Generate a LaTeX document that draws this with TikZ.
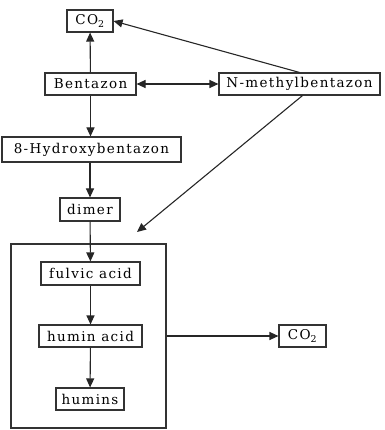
\documentclass[tikz,border=0pt]{standalone}
\usepackage{fontspec}
\setmainfont[LetterSpace=10]{DejaVu Serif}
\usetikzlibrary{arrows.meta,positioning,calc}

\begin{document}
\begin{tikzpicture}[
  x=1pt, y=-1pt,
  >={Triangle[length=9pt,width=8pt]},
  every node/.style={font=\fontsize{13.5}{15}\selectfont},
  cmpd/.style={draw=black!80, line width=1.1pt, inner sep=1pt,
               minimum height=22pt},
  flow/.style={->, line width=1.1pt, black!85},
]
  \useasboundingbox (0,0) rectangle (384,430);

  % Parent compound and first products
  \node[cmpd, minimum width=46pt] (co2a) at (90,21) {CO\textsubscript{2}};
  \node[cmpd, minimum width=91pt] (benta) at (90.5,84) {Bentazon};
  \node[cmpd, minimum width=161pt] (nmeth) at (299.5,84) {N-methylbentazon};
  \node[cmpd, minimum width=179pt, minimum height=25pt] (hydroxy)
    at (91.5,149.5) {8-Hydroxybentazon};
  \node[cmpd, minimum width=60pt, minimum height=23pt] (dimer)
    at (90,209.5) {dimer};

  % Humic substances
  \node[draw=black!80, line width=1.1pt, minimum width=155pt,
        minimum height=184pt] (pool) at (88.5,336) {};
  \node[cmpd, minimum width=99pt, minimum height=23pt] (fulvic)
    at (90.5,273.5) {fulvic acid};
  \node[cmpd, minimum width=103pt] (humacid) at (90.5,336) {humin acid};
  \node[cmpd, minimum width=68pt] (humins) at (90,399) {humins};
  \node[cmpd, minimum width=47pt] (co2b) at (302.5,336) {CO\textsubscript{2}};

  \coordinate (tgt) at (137,232);

  \draw[flow] (benta) -- (co2a);
  \draw[flow, <->] (benta) -- (nmeth);
  \draw[flow] (nmeth.north) -- (co2a.east);
  \draw[flow] ($(nmeth.south)+(3,0)$) -- (tgt);
  \draw[flow] (benta) -- (benta |- hydroxy.north);
  \draw[flow] (dimer |- hydroxy.south) -- (dimer);
  \draw[flow] (dimer) -- (fulvic);
  \draw[flow] (fulvic) -- (humacid);
  \draw[flow] (humacid) -- (humins);
  \draw[flow] (pool.east) -- (co2b);
\end{tikzpicture}
\end{document}
